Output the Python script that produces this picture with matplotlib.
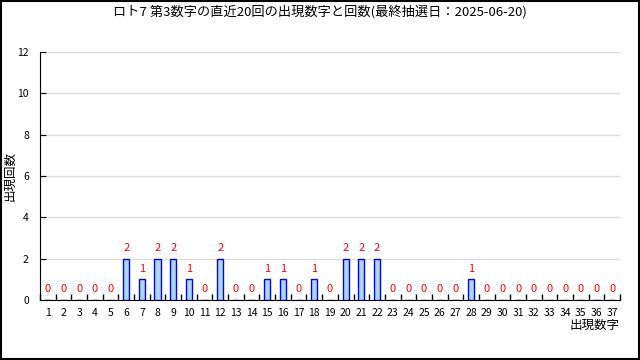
import matplotlib
matplotlib.use('Agg')
import matplotlib.pyplot as plt
import numpy as np

plt.rcParams['font.family'] = ['Noto Sans CJK JP', 'DejaVu Sans']

title = 'ロト7 第3数字の直近20回の出現数字と回数(最終抽選日：2025-06-20)'
numbers = list(range(1, 38))
counts = [0, 0, 0, 0, 0, 2, 1, 2, 2, 1, 0, 2, 0, 0, 1, 1, 0, 1, 0, 2,
          2, 2, 0, 0, 0, 0, 0, 1, 0, 0, 0, 0, 0, 0, 0, 0, 0]
yticks = [0, 2, 4, 6, 8, 10, 12]


def main():
    fig = plt.figure(figsize=(6.4, 3.6), dpi=100)
    ax = fig.add_axes([40 / 640, 60 / 360, 580 / 640, 248 / 360])

    ax.bar(numbers, counts, width=0.4, color='#add8e6', edgecolor='blue', linewidth=1, zorder=3)
    for n, c in zip(numbers, counts):
        ax.annotate(str(c), (n, c), xytext=(0, 4), textcoords='offset points',
                    ha='center', va='bottom', color='red', fontsize=8)

    ax.set_xlim(0.5, 37.5)
    ax.set_ylim(0, 12)
    ax.set_yticks(yticks)
    ax.yaxis.grid(True, color='#dddddd', linewidth=1, zorder=0)
    ax.set_xticks(numbers)
    ax.set_xticks(np.arange(0.5, 38, 1), minor=True)
    ax.tick_params(axis='x', which='major', length=0, pad=6, labelsize=7.5)
    ax.tick_params(axis='x', which='minor', direction='in', length=4, width=1)
    ax.tick_params(axis='y', direction='in', length=4, labelsize=7.5, pad=8)
    for s in ['top', 'right']:
        ax.spines[s].set_visible(False)

    ax.set_ylabel('出現回数', fontsize=9)
    ax.yaxis.set_label_coords(-0.041, 0.5)
    ax.set_xlabel('出現数字', fontsize=9, loc='right', labelpad=0)

    fig.text(0.5, 1 - 12 / 360, title, ha='center', va='center', fontsize=9.5)
    fig.patches.append(plt.Rectangle((0.001, 0.002), 0.997, 0.995, transform=fig.transFigure,
                                     fill=False, edgecolor='black', linewidth=1.5))
    fig.savefig('out.png', dpi=100)


if __name__ == '__main__':
    main()
